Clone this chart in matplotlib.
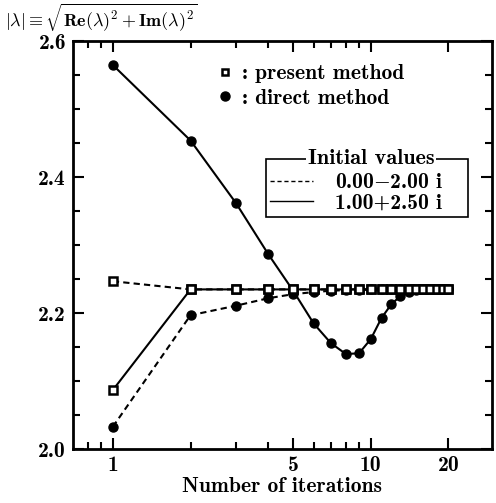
import numpy as np
import matplotlib
matplotlib.use('Agg')
import matplotlib.pyplot as plt
from matplotlib.lines import Line2D
from matplotlib.patches import Rectangle
from matplotlib.ticker import FixedLocator, NullFormatter, FixedFormatter

# data
iters = np.arange(1, 21)
present_dashed = [2.247] + [2.235] * 19
present_solid = [2.087] + [2.235] * 19
direct_dashed = [2.033, 2.197, 2.211, 2.222, 2.228, 2.231, 2.233, 2.234, 2.234, 2.235,
                 2.235, 2.235, 2.235, 2.235, 2.235, 2.235, 2.235, 2.235, 2.235, 2.235]
direct_solid = [2.565, 2.454, 2.362, 2.287, 2.233, 2.185, 2.156, 2.140, 2.141, 2.162,
                2.193, 2.213, 2.225, 2.231, 2.234, 2.235, 2.235, 2.235, 2.235, 2.235]
xticks = [1, 5, 10, 20]
xminor = [0.8, 0.9, 2, 3, 4, 6, 7, 8, 9]
yticks = [2.0, 2.2, 2.4, 2.6]

plt.rcParams['font.family'] = ['cmb10', 'DejaVu Serif']
plt.rcParams['mathtext.fontset'] = 'cm'
plt.rcParams['axes.unicode_minus'] = False
fs = 15.5

fig = plt.figure(figsize=(4.96, 5.03), dpi=100)
ax = fig.add_axes([0.147, 0.107, 0.845, 0.811])

lw = 1.5
ax.plot(iters, direct_dashed, '--', color='black', lw=lw, marker='o', ms=6.5, dashes=(3, 2))
ax.plot(iters, direct_solid, '-', color='black', lw=lw, marker='o', ms=6.5)
ax.plot(iters, present_dashed, '--', color='black', lw=lw, marker='s', ms=5.5,
        mfc='white', mec='black', mew=1.8, dashes=(3, 2))
ax.plot(iters, present_solid, '-', color='black', lw=lw, marker='s', ms=5.5,
        mfc='white', mec='black', mew=1.8)

ax.set_xscale('log')
ax.set_xlim(0.7, 29.5)
ax.set_ylim(2.0, 2.6)
ax.xaxis.set_major_locator(FixedLocator(xticks))
ax.xaxis.set_major_formatter(FixedFormatter([str(t) for t in xticks]))
ax.xaxis.set_minor_locator(FixedLocator(xminor))
ax.xaxis.set_minor_formatter(NullFormatter())
ax.set_yticks(yticks)
ax.set_yticklabels(['%.1f' % t for t in yticks])
ax.yaxis.set_minor_locator(FixedLocator(np.arange(2.0, 2.61, 0.05)))
ax.tick_params(which='both', direction='in', top=True, right=True, labelsize=fs, width=1.5)
ax.tick_params(which='major', length=8, pad=5)
ax.tick_params(which='minor', length=5)
for s in ax.spines.values():
    s.set_linewidth(2)

ax.set_xlabel('Number of iterations', fontsize=fs, labelpad=1)
fig.text(0.01, 0.997,
         r'$|\mathbf{\lambda}| \equiv \sqrt{\mathbf{Re}(\lambda)^\mathbf{2}+\mathbf{Im}(\lambda)^\mathbf{2}}$',
         fontsize=13, ha='left', va='top')

# marker legend
mk = [Line2D([], [], ls='none', marker='s', ms=5, mfc='white', mec='black', mew=1.8, color='black'),
      Line2D([], [], ls='none', marker='o', ms=6.5, color='black')]
leg1 = ax.legend(mk, [': present method', ': direct method'], loc='upper left',
                 bbox_to_anchor=(0.322, 0.965), borderaxespad=0, frameon=False, fontsize=fs,
                 handlelength=0.8, handletextpad=0.4, labelspacing=0.25)
ax.add_artist(leg1)

# line style legend
ls = [Line2D([], [], ls='--', color='black', lw=1, dashes=(3, 2)),
      Line2D([], [], ls='-', color='black', lw=1)]
leg2 = ax.legend(ls, [r'0.00$-$2.00 i', '1.00+2.50 i'], loc='lower left',
                 bbox_to_anchor=(0.461, 0.57), borderaxespad=0, fontsize=fs, frameon=False,
                 handlelength=2.0, labelspacing=0.05, borderpad=0.2, handletextpad=1.0)

fig.canvas.draw()
bb = leg2.get_window_extent().transformed(fig.transFigure.inverted())
box_w = 0.407
box_top = bb.y1 + 0.02
fig.add_artist(Rectangle((bb.x0, bb.y0), box_w, box_top - bb.y0, transform=fig.transFigure,
                         fill=False, edgecolor='black', lw=1.2))
fig.text(bb.x0 + 0.52 * box_w, box_top, 'Initial values', fontsize=fs + 0.5, ha='center', va='center',
         bbox=dict(facecolor='white', edgecolor='none', pad=1))

fig.savefig('out.png', dpi=100)
